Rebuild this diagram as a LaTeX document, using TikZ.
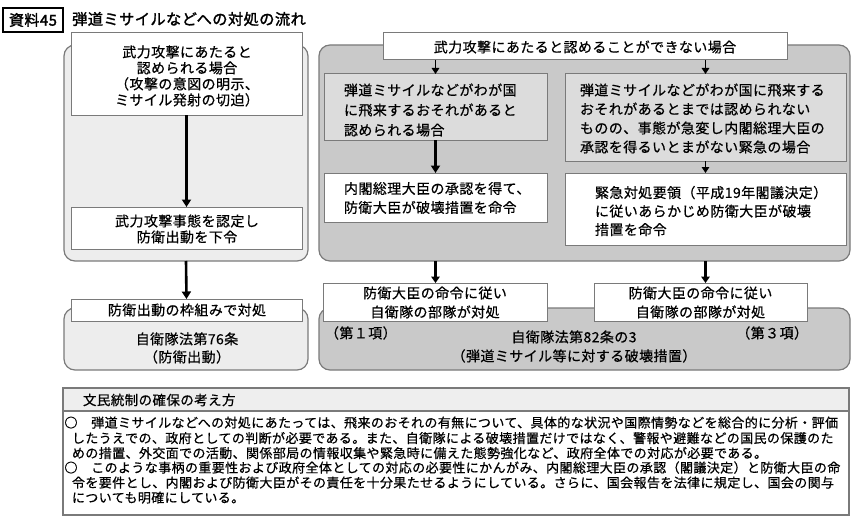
\documentclass[tikz,border=0pt]{standalone}
\usepackage{fontspec}
\newfontfamily\jp[LetterSpace=3,FakeBold=0.6]{Noto Sans CJK JP}
\newfontfamily\jpb[LetterSpace=3,FakeBold=1.8]{Noto Sans CJK JP}
\usetikzlibrary{arrows.meta}
\definecolor{bdr}{HTML}{7A7A7A}
\definecolor{plite}{HTML}{EDEDED}
\definecolor{pdark}{HTML}{C9C9C9}
\definecolor{subf}{HTML}{DCDCDC}
\definecolor{headf}{HTML}{EEEEEE}
\tikzset{
  x=1pt,y=-1pt,
  rect/.style={draw=bdr,line width=1pt,inner sep=0pt,outer sep=0pt,rectangle},
  panel/.style={rect,line width=1.2pt,rounded corners=11pt},
  txt/.style={inner sep=0pt,outer sep=0pt,font=\jp\fontsize{14}{16}\selectfont},
  txtr/.style={txt,font=\jp\fontsize{14}{19}\selectfont},
  small/.style={inner sep=0pt,outer sep=0pt,anchor=base west,font=\jp\fontsize{13}{15}\selectfont},
  thickarr/.style={line width=2.6pt,-{Triangle[length=7.5pt,width=9pt]}},
  thinarr/.style={line width=1.9pt,-{Triangle[length=6pt,width=7.5pt]}},
}
\begin{document}
\begin{tikzpicture}
\useasboundingbox (0,0) rectangle (854,519);
% title
\node[draw=black,line width=1.3pt,inner sep=0pt,minimum width=60pt,minimum height=24pt,
      font=\jpb\fontsize{15}{16}\selectfont] (lab) at (33,20) {資料45};
\node[anchor=west,inner sep=0pt,font=\jpb\fontsize{15.2}{16}\selectfont] (title) at (72,19) {弾道ミサイルなどへの対処の流れ};

% left column
\node[panel,fill=plite,minimum width=244pt,minimum height=216pt] (lpanel) at (186,153) {};
\node[rect,fill=white,minimum width=231pt,minimum height=82pt] (ltop) at (186.5,74) {};
\node[txt,align=center] (ltopt) at (187,76) {武力攻撃にあたると\\認められる場合\\（攻撃の意図の明示、\\ミサイル発射の切迫）};
\node[rect,fill=white,minimum width=231pt,minimum height=42pt] (lbox2) at (186.5,228) {};
\node[txt,align=center] (lbox2t) at (187,229) {武力攻撃事態を認定し\\防衛出動を下令};
\node[panel,fill=plite,minimum width=244pt,minimum height=62pt] (lpanel2) at (186,339) {};
\node[rect,fill=white,minimum width=231pt,minimum height=22pt] (lbox3) at (186.5,310) {};
\node[txt] (lbox3t) at (187,310) {防衛出動の枠組みで対処};
\node[txt,align=center,font=\jp\fontsize{14}{18}\selectfont] (lpan2t) at (187,348) {自衛隊法第76条\\（防衛出動）};
\draw[thickarr] (ltop.south) -- (lbox2.north);
\draw[thickarr] (lpanel.south) -- (lbox3.north);

% right column
\node[panel,fill=pdark,minimum width=531pt,minimum height=216pt] (rpanel) at (584.5,153) {};
\node[rect,fill=white,minimum width=404pt,minimum height=27pt] (rtop) at (585,46.5) {};
\node[txt] (rtopt) at (585,47) {武力攻撃にあたると認めることができない場合};
\node[rect,fill=subf,minimum width=223pt,minimum height=66pt] (rs1L) at (435.5,107) {};
\node[txt,align=left,anchor=west,font=\jp\fontsize{14}{20}\selectfont] (rs1Lt) at (344,110) {弾道ミサイルなどがわが国\\に飛来するおそれがあると\\認められる場合};
\node[rect,fill=white,minimum width=223pt,minimum height=49pt] (rs2L) at (435.5,197.5) {};
\node[txtr,align=left,anchor=west] (rs2Lt) at (344,198) {内閣総理大臣の承認を得て、\\防衛大臣が破壊措置を命令};
\node[rect,fill=subf,minimum width=281pt,minimum height=87pt] (rs1R) at (705.5,117.5) {};
\node[txtr,align=left,anchor=west] (rs1Rt) at (580,118.5) {弾道ミサイルなどがわが国に飛来する\\おそれがあるとまでは認められない\\ものの、事態が急変し内閣総理大臣の\\承認を得るいとまがない緊急の場合};
\node[rect,fill=white,minimum width=281pt,minimum height=72pt] (rs2R) at (705.5,209) {};
\node[txt,align=left,anchor=west,font=\jp\fontsize{14}{18.5}\selectfont] (rs2Rt) at (595,211) {緊急対処要領（平成19年閣議決定）\\に従いあらかじめ防衛大臣が破壊\\措置を命令};
\draw[thinarr] (rs1L.north |- rtop.south) -- (rs1L.north);
\draw[thinarr] (rs1R.north |- rtop.south) -- (rs1R.north);
\draw[thickarr] (rs1L.south) -- (rs2L.north);
\draw[thinarr] (rs1R.south) -- (rs2R.north);

% lower right
\node[panel,fill=pdark,minimum width=531pt,minimum height=62pt] (rpanel2) at (584.5,339) {};
\node[rect,fill=white,minimum width=224pt,minimum height=38pt] (bL) at (435,302) {};
\node[txtr,align=center] (bLt) at (435,302.5) {防衛大臣の命令に従い\\自衛隊の部隊が対処};
\node[rect,fill=white,minimum width=213pt,minimum height=38pt] (bR) at (700.5,302) {};
\node[txtr,align=center] (bRt) at (700.5,302.5) {防衛大臣の命令に従い\\自衛隊の部隊が対処};
\node[txt,anchor=west] (p1) at (325,333) {（第１項）};
\node[txt,anchor=east] (p3) at (808,333) {（第３項）};
\node[txtr,align=center] (rpan2t) at (574,346.5) {自衛隊法第82条の3\\（弾道ミサイル等に対する破壊措置）};
\draw[line width=2.3pt,-{Triangle[length=6.5pt,width=8.5pt]}] (rpanel.south -| rs1L) -- (bL.north -| rs1L);
\draw[line width=2.3pt,-{Triangle[length=6.5pt,width=8.5pt]}] (rpanel.south -| rs1R) -- (bR.north -| rs1R);

% bottom text box
\node[rect,line width=1.2pt,fill=white,minimum width=786pt,minimum height=127pt] (bot) at (456,451.5) {};
\node[rect,line width=1.2pt,fill=headf,minimum width=786pt,minimum height=23pt] (head) at (456,399.5) {};
\node[txt,anchor=west,font=\jp\fontsize{13.5}{15}\selectfont] (headt) at (83,400) {文民統制の確保の考え方};
\node[small] (l1) at (64.5,427.5) {○　弾道ミサイルなどへの対処にあたっては、飛来のおそれの有無について、具体的な状況や国際情勢などを総合的に分析・評価};
\node[small] (l2) at (72,443) {したうえでの、政府としての判断が必要である。また、自衛隊による破壊措置だけではなく、警報や避難などの国民の保護のた};
\node[small] (l3) at (72,458) {めの措置、外交面での活動、関係部局の情報収集や緊急時に備えた態勢強化など、政府全体での対応が必要である。};
\node[small] (l4) at (64.5,472.5) {○　このような事柄の重要性および政府全体としての対応の必要性にかんがみ、内閣総理大臣の承認（閣議決定）と防衛大臣の命};
\node[small] (l5) at (72,487.5) {令を要件とし、内閣および防衛大臣がその責任を十分果たせるようにしている。さらに、国会報告を法律に規定し、国会の関与};
\node[small] (l6) at (72,502.5) {についても明確にしている。};
\end{tikzpicture}
\end{document}
